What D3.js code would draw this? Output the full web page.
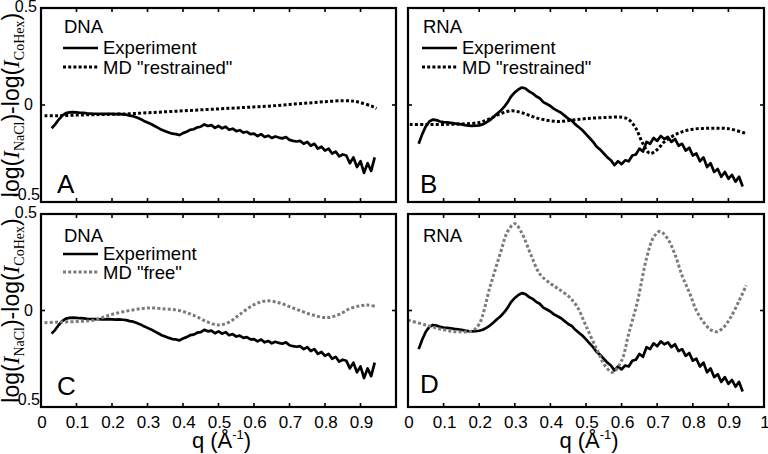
<!DOCTYPE html>
<html><head><meta charset="utf-8">
<script src="https://cdn.jsdelivr.net/npm/d3@7"></script>
<style>body{margin:0;background:#fff}svg{display:block;font-family:Arial,"Liberation Sans",sans-serif}</style>
</head><body><svg id="c" width="768" height="454"></svg>
<script>
// ---------- data ----------
const xTicks = [0,0.1,0.2,0.3,0.4,0.5,0.6,0.7,0.8,0.9,1];
const xTickLabelsLeft = ["0","0.1","0.2","0.3","0.4","0.5","0.6","0.7","0.8","0.9",""];
const xTickLabelsRight = ["0","0.1","0.2","0.3","0.4","0.5","0.6","0.7","0.8","0.9","1"];
const yTicks = [-0.5,0,0.5];
const yTickLabels = ["-0.5","0","0.5"];

const qExp = [0.03,0.04,0.05,0.06,0.07,0.08,0.09,0.10,0.11,0.12,0.13,0.14,0.15,0.16,0.17,0.18,0.19,0.20,
0.21,0.22,0.23,0.24,0.25,0.26,0.27,0.28,0.29,0.30,0.31,0.32,0.33,0.34,0.35,0.36,0.37,0.38,0.39,0.40,
0.41,0.42,0.43,0.44,0.45,0.46,0.47,0.48,0.49,0.50,0.51,0.52,0.53,0.54,0.55,0.56,0.57,0.58,0.59,0.60,
0.61,0.62,0.63,0.64,0.65,0.66,0.67,0.68,0.69,0.70,0.71,0.72,0.73,0.74,0.75,0.76,0.77,0.78,0.79,0.80,
0.81,0.82,0.83,0.84,0.85,0.86,0.87,0.88,0.89,0.90,0.91,0.92,0.93,0.94];

const dnaExp = [-0.12,-0.10,-0.075,-0.055,-0.042,-0.038,-0.037,-0.038,-0.040,-0.041,-0.043,-0.044,-0.045,-0.045,-0.046,-0.046,-0.045,-0.046,
-0.047,-0.046,-0.048,-0.050,-0.055,-0.058,-0.065,-0.072,-0.082,-0.090,-0.098,-0.108,-0.118,-0.128,-0.135,-0.142,-0.148,-0.150,-0.155,-0.145,
-0.138,-0.128,-0.125,-0.115,-0.112,-0.100,-0.108,-0.104,-0.118,-0.108,-0.120,-0.112,-0.128,-0.122,-0.135,-0.130,-0.142,-0.138,-0.150,-0.148,
-0.160,-0.150,-0.165,-0.158,-0.170,-0.162,-0.168,-0.172,-0.165,-0.180,-0.185,-0.188,-0.185,-0.200,-0.190,-0.210,-0.200,-0.225,-0.215,-0.235,
-0.225,-0.250,-0.240,-0.265,-0.255,-0.260,-0.300,-0.270,-0.320,-0.290,-0.350,-0.300,-0.340,-0.270];

const rnaExp = [-0.20,-0.15,-0.11,-0.085,-0.075,-0.078,-0.085,-0.088,-0.090,-0.092,-0.095,-0.097,-0.100,-0.104,-0.107,-0.108,-0.107,-0.105,
-0.100,-0.090,-0.078,-0.062,-0.045,-0.030,-0.010,0.015,0.045,0.065,0.080,0.090,0.085,0.070,0.060,0.045,0.035,0.015,0.005,-0.005,
-0.020,-0.030,-0.040,-0.055,-0.070,-0.080,-0.100,-0.115,-0.130,-0.150,-0.170,-0.190,-0.215,-0.230,-0.250,-0.270,-0.285,-0.310,-0.290,-0.305,
-0.285,-0.290,-0.260,-0.255,-0.225,-0.240,-0.190,-0.200,-0.170,-0.185,-0.160,-0.175,-0.165,-0.190,-0.175,-0.210,-0.200,-0.235,-0.220,-0.260,
-0.250,-0.290,-0.270,-0.320,-0.300,-0.345,-0.330,-0.370,-0.345,-0.380,-0.360,-0.395,-0.370,-0.420];

const qDnaRestr = [0.01,0.05,0.10,0.15,0.20,0.25,0.30,0.35,0.40,0.45,0.50,0.55,0.60,0.65,0.70,0.75,0.80,0.85,0.88,0.90,0.93,0.945];
const dnaRestr  = [-0.055,-0.055,-0.052,-0.050,-0.048,-0.045,-0.040,-0.035,-0.030,-0.025,-0.020,-0.015,-0.010,-0.005,0.003,0.010,0.017,0.022,0.020,0.012,-0.005,-0.018];

const qRnaRestr = [0.005,0.05,0.10,0.15,0.20,0.23,0.26,0.29,0.32,0.35,0.38,0.42,0.46,0.50,0.55,0.60,0.62,0.64,0.66,0.68,0.70,0.72,0.76,0.80,0.85,0.90,0.947];
const rnaRestr  = [-0.10,-0.10,-0.10,-0.098,-0.090,-0.070,-0.045,-0.030,-0.040,-0.060,-0.075,-0.085,-0.078,-0.070,-0.065,-0.063,-0.075,-0.120,-0.200,-0.250,-0.230,-0.190,-0.145,-0.125,-0.120,-0.122,-0.145];

const qDnaFree = [0.01,0.05,0.10,0.15,0.20,0.25,0.30,0.35,0.39,0.43,0.47,0.50,0.53,0.56,0.60,0.635,0.67,0.71,0.76,0.805,0.84,0.87,0.90,0.92,0.945];
const dnaFree  = [-0.063,-0.060,-0.057,-0.050,-0.020,0.000,0.013,0.008,0.000,-0.025,-0.060,-0.075,-0.060,-0.020,0.030,0.050,0.040,0.013,-0.020,-0.037,-0.020,0.010,0.025,0.028,0.020];

const qRnaFree = [0.0,0.05,0.10,0.14,0.18,0.20,0.23,0.26,0.28,0.30,0.32,0.345,0.37,0.40,0.42,0.45,0.475,0.50,0.53,0.555,0.575,0.60,0.62,0.645,0.67,0.69,0.708,0.73,0.75,0.77,0.79,0.81,0.83,0.85,0.868,0.885,0.905,0.93,0.95];
const rnaFree  = [-0.05,-0.075,-0.100,-0.110,-0.105,-0.070,0.120,0.300,0.410,0.450,0.400,0.290,0.190,0.140,0.115,0.075,0.020,-0.080,-0.200,-0.290,-0.320,-0.260,-0.120,0.050,0.270,0.380,0.410,0.370,0.290,0.180,0.095,0.000,-0.060,-0.100,-0.110,-0.090,-0.040,0.050,0.130];

const molecules = ["DNA","RNA","DNA","RNA"];
const letters = ["A","B","C","D"];
const mdLabels = ['MD "restrained"','MD "restrained"','MD "free"',null];

// ---------- layout ----------
const svg = d3.select("#c");
const GRAY = "#7b7b7b";
const panels = [
  {x0:41, x1:396, y0:8,   y1:202, q:qDnaRestr, v:dnaRestr, exp:dnaExp, col:"#000", left:true,  bottom:false, legY:33,  letY:193},
  {x0:408,x1:764, y0:8,   y1:202, q:qRnaRestr, v:rnaRestr, exp:rnaExp, col:"#000", left:false, bottom:false, legY:33,  letY:193},
  {x0:41, x1:396, y0:214, y1:407, q:qDnaFree,  v:dnaFree,  exp:dnaExp, col:GRAY,   left:true,  bottom:true,  legY:242, letY:395},
  {x0:408,x1:764, y0:214, y1:407, q:qRnaFree,  v:rnaFree,  exp:rnaExp, col:GRAY,   left:false, bottom:true,  legY:242, letY:393}
];

panels.forEach((p,i) => {
  const x = d3.scaleLinear().domain([0,1]).range([p.x0,p.x1]);
  const y = d3.scaleLinear().domain([-0.5,0.5]).range([p.y1,p.y0]);
  const g = svg.append("g");

  const expLine = d3.line().x((d,k)=>x(qExp[k])).y(d=>y(d));
  g.append("path").attr("d", expLine(p.exp)).attr("fill","none")
    .attr("stroke","#000").attr("stroke-width",2.7).attr("stroke-linejoin","round");
  const mdLine = d3.line().x((d,k)=>x(p.q[k])).y(d=>y(d)).curve(d3.curveCatmullRom);
  g.append("path").attr("d", mdLine(p.v)).attr("fill","none")
    .attr("stroke",p.col).attr("stroke-width",3).attr("stroke-dasharray","3,2.2");

  g.append("rect").attr("x",p.x0).attr("y",p.y0).attr("width",p.x1-p.x0).attr("height",p.y1-p.y0)
    .attr("fill","none").attr("stroke","#000").attr("stroke-width",2.2);

  xTicks.forEach(t => {
    g.append("line").attr("x1",x(t)).attr("x2",x(t)).attr("y1",p.y1).attr("y2",p.y1-4).attr("stroke","#000").attr("stroke-width",1.6);
    g.append("line").attr("x1",x(t)).attr("x2",x(t)).attr("y1",p.y0).attr("y2",p.y0+4).attr("stroke","#000").attr("stroke-width",1.6);
  });
  yTicks.forEach(t => {
    g.append("line").attr("x1",p.x0).attr("x2",p.x0+4).attr("y1",y(t)).attr("y2",y(t)).attr("stroke","#000").attr("stroke-width",1.6);
    g.append("line").attr("x1",p.x1).attr("x2",p.x1-4).attr("y1",y(t)).attr("y2",y(t)).attr("stroke","#000").attr("stroke-width",1.6);
  });

  if (p.bottom) {
    const labs = p.left ? xTickLabelsLeft : xTickLabelsRight;
    xTicks.forEach((t,k) => {
      g.append("text").attr("x",x(t)+1).attr("y",428).attr("text-anchor","middle")
        .attr("font-size",17).text(labs[k]);
    });
    const tt = g.append("text").attr("x",(p.x0+p.x1)/2+3).attr("y",448).attr("text-anchor","middle").attr("font-size",22);
    tt.append("tspan").text("q (Å");
    tt.append("tspan").attr("font-size",13).attr("dy",-9).text("-1");
    tt.append("tspan").attr("dy",9).text(")");
  }
  if (p.left) {
    yTicks.forEach((t,k) => {
      const off = t === 0.5 ? 4 : (t === -0.5 ? -2 : 5);
      const xe = t === 0 ? 33 : (t === -0.5 ? 40 : 37);
      g.append("text").attr("x",xe).attr("y",y(t)+off).attr("text-anchor","end")
        .attr("font-size",16).text(yTickLabels[k]);
    });
    const cy = (p.y0+p.y1)/2;
    const yt = g.append("text").attr("transform",`translate(19,${cy}) rotate(-90)`)
      .attr("text-anchor","middle").attr("font-size",23);
    const serif = "'Liberation Serif','Times New Roman',serif";
    yt.append("tspan").text("log(");
    yt.append("tspan").attr("font-family",serif).attr("font-style","italic").text("I");
    yt.append("tspan").attr("font-family",serif).attr("font-size",14).attr("dy",5).text("NaCl");
    yt.append("tspan").attr("dy",-5).text(")-log(");
    yt.append("tspan").attr("font-family",serif).attr("font-style","italic").text("I");
    yt.append("tspan").attr("font-family",serif).attr("font-size",14).attr("dy",5).text("CoHex");
    yt.append("tspan").attr("dy",-5).text(")");
  }

  const lx = p.left ? 63 : 422;
  g.append("text").attr("x",lx+1).attr("y",p.legY).attr("font-size",18.5).text(molecules[i]);
  if (mdLabels[i]) {
    const ly1 = p.legY + (p.left && p.bottom ? 12 : 15);
    const ly2 = ly1 + (p.bottom ? 18 : 19);
    g.append("line").attr("x1",lx).attr("x2",lx+35).attr("y1",ly1).attr("y2",ly1).attr("stroke","#000").attr("stroke-width",2.7);
    g.append("text").attr("x",lx+40).attr("y",ly1+6).attr("font-size",18.5).text("Experiment");
    g.append("line").attr("x1",lx).attr("x2",lx+35).attr("y1",ly2).attr("y2",ly2).attr("stroke",p.col).attr("stroke-width",3).attr("stroke-dasharray","3,2.2");
    g.append("text").attr("x",lx+40).attr("y",ly2+7).attr("font-size",18.5).text(mdLabels[i]);
  }
  g.append("text").attr("x",p.left ? 57 : 420).attr("y",p.letY).attr("font-size",26).text(letters[i]);
});
</script></body></html>
